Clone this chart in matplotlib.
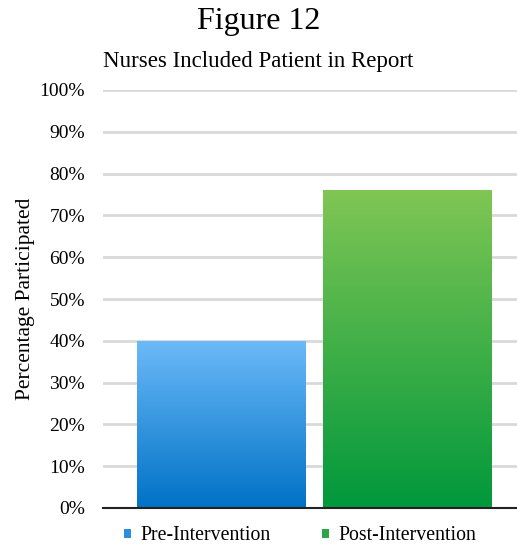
import numpy as np
import matplotlib.pyplot as plt
from matplotlib.colors import LinearSegmentedColormap
from matplotlib.patches import Patch

categories = ['Pre-Intervention', 'Post-Intervention']
values = [40, 76]
yticks = [0, 10, 20, 30, 40, 50, 60, 70, 80, 90, 100]

grads = [('#6cbaf8', '#0072c6'), ('#80c654', '#00983c')]
solid = ['#2b8fde', '#2aa646']

plt.rcParams['font.family'] = ['Liberation Serif', 'DejaVu Serif']

fig = plt.figure(figsize=(5.17, 5.46), dpi=100)
ax = fig.add_axes([103/517, 1-508/546, 414/517, 418/546])

ax.set_xlim(-0.635, 1.585)
ax.set_ylim(0, 100)

width = 0.906
for i, (v, (top, bot)) in enumerate(zip(values, grads)):
    bar = ax.bar(i, v, width=width, color='none', edgecolor='none', zorder=2)[0]
    cmap = LinearSegmentedColormap.from_list('g%d' % i, [bot, top])
    grad = np.linspace(0, 1, 256).reshape(-1, 1)
    im = ax.imshow(grad, cmap=cmap, aspect='auto', origin='lower',
                   extent=[i - width/2, i + width/2, 0, v], zorder=2)
    im.set_clip_path(bar)

ax.set_yticks(yticks)
ax.set_yticklabels(['%d%%' % t for t in yticks], fontsize=14)
ax.set_xticks([])
ax.yaxis.grid(True, color='#d9d9d9', linewidth=2)
ax.set_axisbelow(True)
for s in ['top', 'right', 'left']:
    ax.spines[s].set_visible(False)
ax.spines['bottom'].set_color('#222222')
ax.spines['bottom'].set_linewidth(1.5)
ax.spines['bottom'].set_zorder(3)
ax.tick_params(axis='y', length=0, pad=13)

ax.set_ylabel('Percentage Participated', fontsize=15.5)
ax.yaxis.set_label_coords(-(103-35)/414, 0.5)

fig.text(0.5, 1-22/546, 'Figure 12', ha='center', va='center', fontsize=23)
fig.text(0.5, 1-62/546, 'Nurses Included Patient in Report', ha='center', va='center', fontsize=16.5)

handles = [Patch(facecolor=c, edgecolor='none') for c in solid]
fig.legend(handles, categories, loc='center', bbox_to_anchor=(0.58, 1-536/546),
           ncol=2, frameon=False, fontsize=14.3, handlelength=0.36, handleheight=0.36,
           handletextpad=0.45, columnspacing=2.6)

fig.savefig('out.png', dpi=100)
